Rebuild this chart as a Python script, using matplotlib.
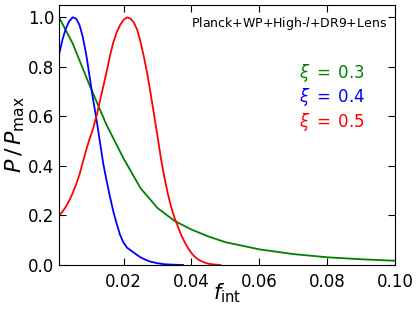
import matplotlib
matplotlib.use('Agg')
import matplotlib.pyplot as plt

# f_int values and normalised posteriors
f_green = [0.001, 0.005, 0.010, 0.015, 0.020, 0.025, 0.030, 0.035, 0.040,
           0.045, 0.050, 0.060, 0.070, 0.080, 0.090, 0.100]
p_green = [1.0, 0.895, 0.725, 0.565, 0.43, 0.31, 0.23, 0.178, 0.143,
           0.115, 0.092, 0.063, 0.044, 0.031, 0.023, 0.017]

f_blue = [0.001, 0.002, 0.003, 0.004, 0.005, 0.006, 0.007, 0.008, 0.009,
          0.010, 0.011, 0.012, 0.013, 0.014, 0.015, 0.016, 0.017, 0.018,
          0.019, 0.020, 0.021, 0.022, 0.023, 0.024, 0.025, 0.026, 0.027,
          0.028, 0.030, 0.032, 0.034, 0.036, 0.0375]
p_blue = [0.85, 0.91, 0.955, 0.985, 1.0, 0.995, 0.97, 0.92, 0.85,
          0.76, 0.67, 0.59, 0.50, 0.41, 0.34, 0.275, 0.215, 0.165,
          0.12, 0.09, 0.07, 0.06, 0.05, 0.04, 0.031, 0.024, 0.018,
          0.013, 0.007, 0.003, 0.0015, 0.0005, 0.0]

f_red = [0.001, 0.002, 0.003, 0.004, 0.005, 0.006, 0.007, 0.008, 0.009,
         0.010, 0.011, 0.012, 0.013, 0.014, 0.015, 0.016, 0.017, 0.018,
         0.019, 0.020, 0.021, 0.022, 0.023, 0.024, 0.025, 0.026, 0.027,
         0.028, 0.029, 0.030, 0.031, 0.032, 0.033, 0.034, 0.035, 0.036,
         0.037, 0.038, 0.039, 0.040, 0.041, 0.042, 0.043, 0.044, 0.045,
         0.046, 0.047, 0.0485]
p_red = [0.20, 0.215, 0.235, 0.26, 0.29, 0.325, 0.365, 0.415, 0.465,
         0.51, 0.55, 0.60, 0.66, 0.72, 0.78, 0.845, 0.90, 0.94,
         0.97, 0.99, 1.0, 0.995, 0.98, 0.95, 0.90, 0.84, 0.77,
         0.69, 0.605, 0.52, 0.43, 0.355, 0.29, 0.235, 0.19, 0.155,
         0.12, 0.092, 0.068, 0.048, 0.033, 0.022, 0.015, 0.009, 0.005,
         0.003, 0.0015, 0.0]

x_ticks = [0.02, 0.04, 0.06, 0.08, 0.10]
y_ticks = [0.0, 0.2, 0.4, 0.6, 0.8, 1.0]

plt.rcParams['mathtext.fontset'] = 'dejavusans'

fig = plt.figure(figsize=(4.16, 3.11), dpi=100)
ax = fig.add_axes([0.142, 0.148, 0.808, 0.836])

ax.plot(f_green, p_green, color='green', lw=1.3)
ax.plot(f_blue, p_blue, color='blue', lw=1.3)
ax.plot(f_red, p_red, color='red', lw=1.3)

ax.set_xlim(0.001, 0.10)
ax.set_ylim(0.0, 1.05)
ax.set_xticks(x_ticks)
ax.set_xticklabels(['%.2f' % v for v in x_ticks])
ax.set_yticks(y_ticks)
ax.set_yticklabels(['%.1f' % v for v in y_ticks])
ax.tick_params(direction='in', top=True, right=True, labelsize=12, length=5)
ax.tick_params(axis='x', pad=6)
ax.tick_params(axis='y', pad=3.5)

ax.set_xlabel(r'$f_{\rm int}$', fontsize=15)
ax.xaxis.set_label_coords(0.5, -0.065)
ax.set_ylabel(r'$P\,/\,P_{\rm max}$', fontsize=16)
ax.yaxis.set_label_coords(-0.095, 0.5)

ax.text(0.976, 0.93, r'Planck+WP+High-$l$+DR9+Lens', transform=ax.transAxes,
        ha='right', va='center', fontsize=9)
ax.text(0.91, 0.74, r'$\xi\;=\;0.3$', color='green', transform=ax.transAxes,
        ha='right', va='center', fontsize=12)
ax.text(0.91, 0.645, r'$\xi\;=\;0.4$', color='blue', transform=ax.transAxes,
        ha='right', va='center', fontsize=12)
ax.text(0.91, 0.55, r'$\xi\;=\;0.5$', color='red', transform=ax.transAxes,
        ha='right', va='center', fontsize=12)

fig.savefig('out.png', dpi=100)
